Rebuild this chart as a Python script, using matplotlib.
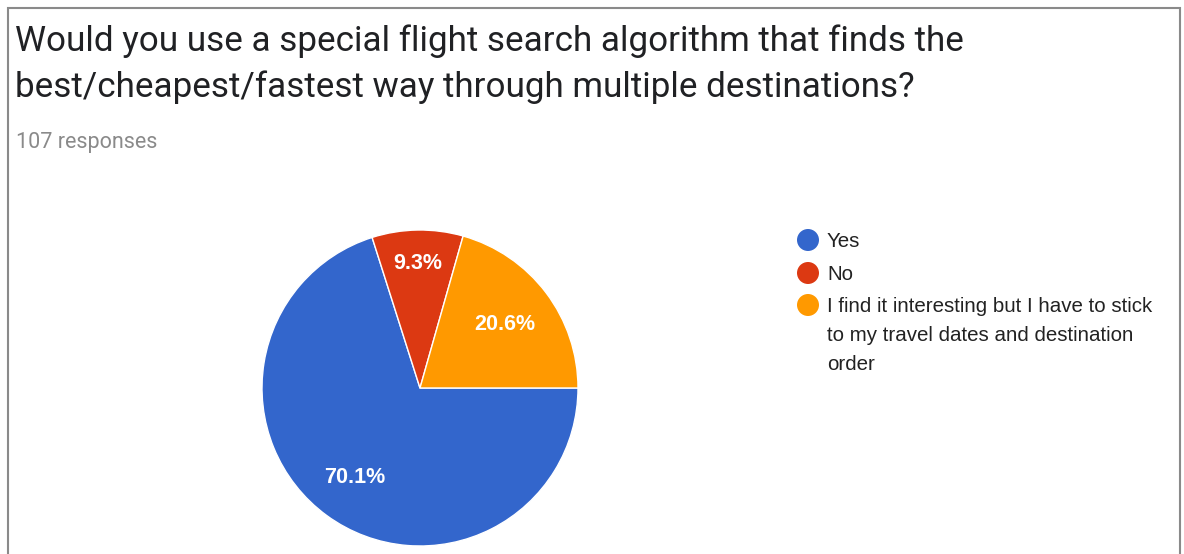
import matplotlib.pyplot as plt
import numpy as np
from matplotlib.patches import Rectangle, Ellipse

W, H = 1184, 554

categorias = ['Yes', 'No', 'I find it interesting but I have to stick\nto my travel dates and destination\norder']
percentuais = [70.1, 9.3, 20.6]
rotulos = ['70.1%', '9.3%', '20.6%']
cores = ['#3366CC', '#DC3912', '#FF9900']
dist_rotulo = [0.70, 0.79, 0.67]

titulo = ['Would you use a special flight search algorithm that finds the',
          'best/cheapest/fastest way through multiple destinations?']
subtitulo = '107 responses'


def px(x, y):
    # pixel (origem no canto superior esquerdo) -> fracao da figura
    return x / W, 1 - y / H


fig = plt.figure(figsize=(W / 100, H / 100), dpi=100)
fig.patch.set_facecolor('white')

# moldura do cartao
fig.patches.append(Rectangle(px(8, 600), (1180 - 8) / W, (600 - 8) / H,
                             transform=fig.transFigure, fill=False,
                             edgecolor='#8a8a8a', linewidth=1.5))

for i, linha in enumerate(titulo):
    fig.text(*px(15, 51 + 46 * i), linha, fontsize=25.2, family='Roboto',
             color='#202124', va='baseline', ha='left')
fig.text(*px(16, 148), subtitulo, fontsize=15.5, family='Roboto', color='#8a8a8a',
         va='baseline', ha='left')

# pizza
cx, cy, r = 420, 388, 158
ax = fig.add_axes([(cx - r) / W, (H - cy - r) / H, 2 * r / W, 2 * r / H])
wedges, _ = ax.pie(percentuais, colors=cores, startangle=0, counterclock=False,
                   radius=1, wedgeprops=dict(edgecolor='white', linewidth=1))
for w, txt, d in zip(wedges, rotulos, dist_rotulo):
    ang = np.deg2rad((w.theta1 + w.theta2) / 2)
    ax.text(d * np.cos(ang), d * np.sin(ang), txt, ha='center', va='center',
            color='white', fontsize=15.5, fontweight='bold', family='Liberation Sans')
ax.set_xlim(-1, 1)
ax.set_ylim(-1, 1)
ax.set_aspect('equal')
ax.axis('off')

# legenda
leg_y = [240, 273, 305]
for cat, cor, y in zip(categorias, cores, leg_y):
    fig.patches.append(Ellipse(px(808, y), 22 / W, 22 / H, transform=fig.transFigure,
                               facecolor=cor, edgecolor='none'))
    for j, linha in enumerate(cat.split('\n')):
        fig.text(*px(827, y + 7 + 29 * j), linha, fontsize=14.8,
                 family='Liberation Sans', color='#222222', va='baseline', ha='left')

fig.savefig('out.png', dpi=100, facecolor='white')
